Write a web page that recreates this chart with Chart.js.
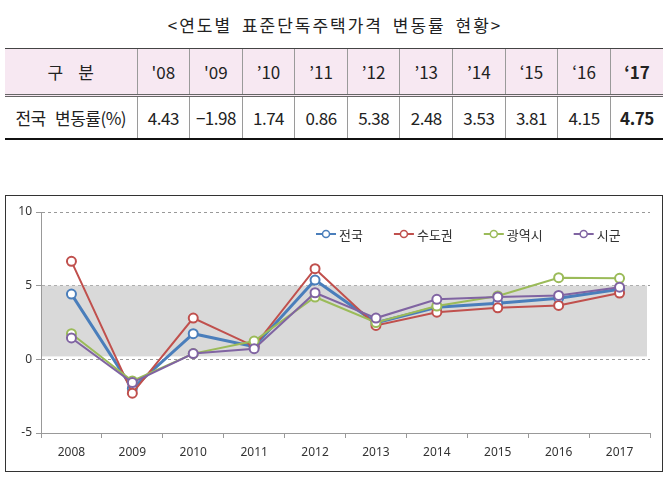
<!DOCTYPE html>
<html>
<head>
<meta charset="utf-8">
<script src="https://cdn.jsdelivr.net/npm/chart.js@4/dist/chart.umd.min.js"></script>
<style>
  html, body { margin: 0; padding: 0; background: #fff; }
  body { width: 670px; height: 478px; position: relative; overflow: hidden; font-family: "Noto Sans CJK KR", sans-serif; }
  #title { position: absolute; left: 0; top: 12px; width: 670px; text-align: center; font-size: 17px; color: #222; letter-spacing: 2px; word-spacing: 4px; line-height: 26px; }
  #tbl { position: absolute; left: 5px; top: 48px; width: 658px; border-collapse: collapse; table-layout: fixed; color: #222; }
  #tbl td { text-align: center; padding: 0; border-left: 1px solid #9a9a9a; }
  #tbl td:first-child { border-left: none; }
  #tbl tr.head td { background: #f7e8f2; height: 45px; border-top: 1px solid #444; border-bottom: 3px double #666; font-size: 17px; }
  #tbl tr.val td { height: 41px; border-bottom: 2px solid #111; font-size: 17px; letter-spacing: -0.5px; }
  #tbl td.b { font-weight: bold; }
  #tbl td.rotulo { font-size: 16px; letter-spacing: 1px; word-spacing: 6px; }
  #box { position: absolute; left: 5px; top: 195px; width: 656px; height: 275px; border: 1px solid #333; }
</style>
</head>
<body>
<div id="title">&lt;연도별 표준단독주택가격 변동률 현황&gt;</div>
<table id="tbl"></table>
<div id="box"><canvas id="grafico" width="656" height="275"></canvas></div>
<script>
const years = ["2008", "2009", "2010", "2011", "2012", "2013", "2014", "2015", "2016", "2017"];
const shortYears = ["'08", "'09", "’10", "’11", "’12", "’13", "’14", "‘15", "‘16", "‘17"];
const jeonguk = [4.43, -1.98, 1.74, 0.86, 5.38, 2.48, 3.53, 3.81, 4.15, 4.75];
const sudogwon = [6.65, -2.3, 2.8, 0.88, 6.15, 2.3, 3.2, 3.5, 3.66, 4.5];
const gwangyeoksi = [1.74, -1.47, 0.39, 1.24, 4.23, 2.5, 3.62, 4.3, 5.54, 5.5];
const sigun = [1.45, -1.58, 0.39, 0.72, 4.52, 2.8, 4.07, 4.23, 4.34, 4.9];
const yTicks = [-5, 0, 5, 10];
const band = [0.2, 5]; // 회색 영역

// 표 만들기
const tbl = document.getElementById("tbl");
let html = '<colgroup><col style="width:132px">' + years.map(() => '<col>').join('') + '</colgroup>';
html += '<tr class="head"><td>구&nbsp;&nbsp;&nbsp;&nbsp;분</td>' +
    shortYears.map((y, i) => '<td' + (i === shortYears.length - 1 ? ' class="b"' : '') + '>' + y + '</td>').join('') + '</tr>';
html += '<tr class="val"><td class="rotulo">전국 변동률(%)</td>' +
    jeonguk.map((v, i) => '<td' + (i === jeonguk.length - 1 ? ' class="b"' : '') + '>' + v.toFixed(2).replace('-', '−') + '</td>').join('') + '</tr>';
tbl.innerHTML = html;

const colores = ["#4a7ebb", "#c0504d", "#9bbb59", "#8064a2"];
const nombres = ["전국", "수도권", "광역시", "시군"];
const series = [jeonguk, sudogwon, gwangyeoksi, sigun];

// 회색 배경 영역
const bandPlugin = {
    id: "band",
    beforeDatasetsDraw(chart) {
        const { ctx, chartArea, scales } = chart;
        const top = scales.y.getPixelForValue(band[1]);
        const bottom = scales.y.getPixelForValue(band[0]);
        ctx.save();
        ctx.fillStyle = "#d9d9d9";
        ctx.fillRect(chartArea.left + 1, top, chartArea.right - chartArea.left - 4, bottom - top);
        ctx.restore();
    }
};

// 범례 (그래프 안쪽)
const legendPlugin = {
    id: "leyenda",
    afterDraw(chart) {
        const ctx = chart.ctx;
        ctx.save();
        ctx.font = "13px 'Noto Sans CJK KR'";
        ctx.textBaseline = "middle";
        let x = 310;
        const y = 38;
        nombres.forEach((n, i) => {
            ctx.strokeStyle = colores[i];
            ctx.lineWidth = 2;
            ctx.beginPath();
            ctx.moveTo(x, y);
            ctx.lineTo(x + 20, y);
            ctx.stroke();
            ctx.beginPath();
            ctx.arc(x + 10, y, 3.5, 0, Math.PI * 2);
            ctx.fillStyle = "#fff";
            ctx.fill();
            ctx.lineWidth = 1.5;
            ctx.stroke();
            ctx.fillStyle = "#333";
            ctx.fillText(n, x + 23, y + 1);
            x += 23 + ctx.measureText(n).width + 31;
        });
        ctx.restore();
    }
};

new Chart(document.getElementById("grafico"), {
    type: "line",
    data: {
        labels: years,
        datasets: series.map((d, i) => ({
            label: nombres[i],
            data: d,
            borderColor: colores[i],
            backgroundColor: "#fff",
            borderWidth: i === 0 ? 3 : 2,
            pointRadius: 4.5,
            pointBorderWidth: 2,
            pointBackgroundColor: "#fff",
            pointBorderColor: colores[i],
            tension: 0,
            order: 4 - i
        }))
    },
    options: {
        responsive: false,
        animation: false,
        devicePixelRatio: 1,
        layout: { padding: { top: 16, right: 12, left: 0, bottom: 0 } },
        plugins: { legend: { display: false }, tooltip: { enabled: false } },
        scales: {
            x: {
                offset: true,
                grid: { offset: true, drawOnChartArea: false, drawTicks: true, tickLength: 5, color: "#999" },
                border: { color: "#999", width: 1 },
                ticks: { color: "#333", padding: 7, font: { family: "'Noto Sans', sans-serif", size: 12 } },
                afterFit(scale) { scale.height = 38; }
            },
            y: {
                min: -5,
                max: 10,
                afterBuildTicks(scale) { scale.ticks = yTicks.map(v => ({ value: v })); },
                grid: {
                    color: ctx => ctx.tick && ctx.tick.value === -5 ? "rgba(0,0,0,0)" : "#999",
                    tickColor: "#999",
                    tickLength: 5
                },
                border: { color: "#999", width: 1, dash: [3, 3] },
                ticks: { color: "#333", padding: 4, font: { family: "'Noto Sans', sans-serif", size: 12 } },
                afterFit(scale) { scale.width = 35; }
            }
        }
    },
    plugins: [bandPlugin, legendPlugin]
});
</script>
</body>
</html>
